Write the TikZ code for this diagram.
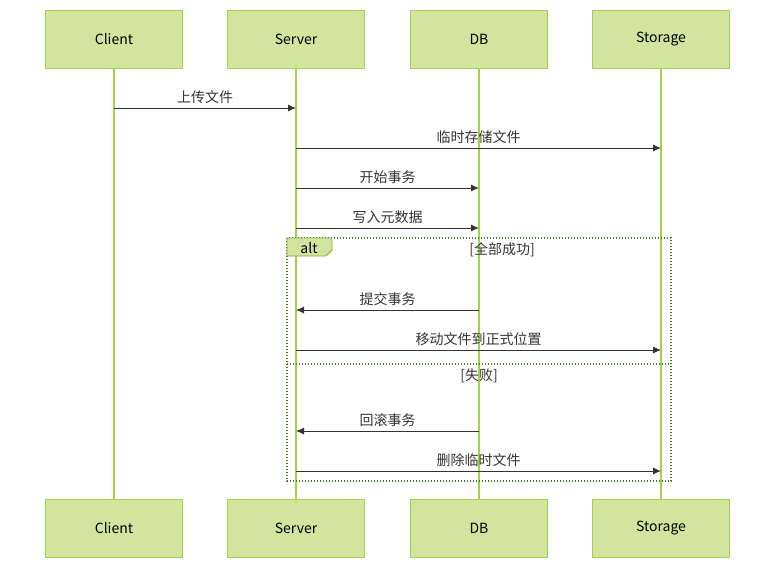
\documentclass[tikz,border=0pt]{standalone}
\usepackage{fontspec}
\setmainfont{Noto Sans CJK SC}
\usetikzlibrary{arrows.meta,calc}
\definecolor{boxfill}{HTML}{D2E59E}
\definecolor{boxline}{HTML}{A5D04A}
\definecolor{lifeline}{HTML}{A5D04A}
\definecolor{msg}{HTML}{333333}
\definecolor{frame}{HTML}{3D7A2A}
\begin{document}
\begin{tikzpicture}[x=1pt,y=-1pt,
  actor/.style={draw=boxline,fill=boxfill,minimum width=137pt,minimum height=58pt,inner sep=0pt,font=\fontsize{14}{16}\selectfont,text=black},
  life/.style={draw=lifeline,line width=1.3pt},
  m/.style={draw=msg,line width=0.9pt,-{Latex[length=8pt,width=7pt]}},
  lab/.style={font=\fontsize{14}{16}\selectfont,text=msg,above=3pt,inner sep=1pt},
  fr/.style={draw=frame,line width=1.4pt,dash pattern=on 1.4pt off 1.6pt}]
\useasboundingbox (0,0) rectangle (784,575);
\foreach \n/\x/\t in {c/114/Client,s/296/Server,d/479/DB,g/661/Storage}{
  \coordinate (\n) at (\x,0);
  \draw[life] (\x,68) -- (\x,499);
  \node[actor] (\n T) at (\x,39) {\t};
  \node[actor] (\n B) at (\x,528) {\t};
}
\foreach \y/\a/\b/\t in {108/c/s/上传文件,148/s/g/临时存储文件,188/s/d/开始事务,228/s/d/写入元数据,310/d/s/提交事务,350/s/g/移动文件到正式位置,431/d/s/回滚事务,471/s/g/删除临时文件}{
  \coordinate (A\y) at ($(\a)+(0,\y)$);
  \coordinate (B\y) at ($(\b)+(0,\y)$);
  \draw[m] (A\y) -- (B\y);
  \node[lab] at ($(A\y)!0.5!(B\y)$) {\t};
}
\draw[fr] (287,238) rectangle (671,481);
\draw[fr] (287,364) -- (671,364);
\draw[draw=boxline!80!black,fill=boxfill,line width=0.8pt] (287,238) -- (332,238) -- (332,250) -- (326,256) -- (287,256) -- cycle;
\node[font=\fontsize{14}{16}\selectfont] (alt) at (309,248) {alt};
\node[font=\fontsize{14}{16}\selectfont,text=msg] (c1) at (502,250) {[全部成功]};
\node[font=\fontsize{14}{16}\selectfont,text=msg] (c2) at (479,376) {[失败]};
\end{tikzpicture}
\end{document}
